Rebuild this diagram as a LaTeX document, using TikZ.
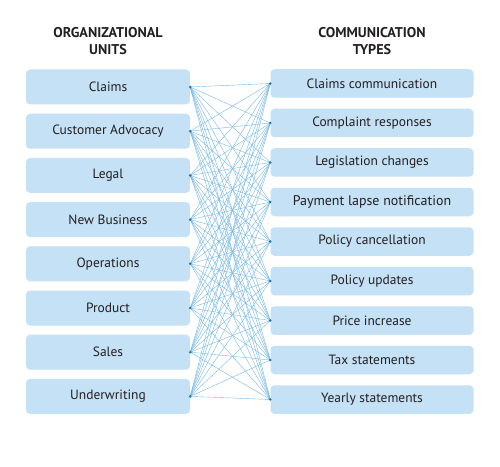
\documentclass[tikz,border=0pt]{standalone}
\usepackage{fontspec}
\setmainfont{PT Sans}
\usetikzlibrary{positioning}
\definecolor{boxblue}{RGB}{197,225,245}
\definecolor{lineblue}{RGB}{118,184,230}
\definecolor{dotblue}{RGB}{27,117,188}
\definecolor{textgray}{RGB}{35,31,32}

\begin{document}
\begin{tikzpicture}[x=1bp, y=-1bp,
    header/.style={align=center, font=\fontsize{14.2}{17.5}\selectfont\bfseries, text=textgray},
    box/.style={fill=boxblue, rounded corners=4bp, inner sep=0pt, text=textgray, font=\fontsize{13.5}{15}\selectfont},
    unit/.style={box, minimum width=164bp, minimum height=35bp, node distance=44.2bp},
    ctype/.style={box, minimum width=203bp, minimum height=28.5bp, node distance=39.5bp},
    link/.style={lineblue, line width=0.4bp},
    dot/.style={dotblue},
]
\useasboundingbox (0,0) rectangle (500,467);

\node[header] (unitshead) at (108,41) {ORGANIZATIONAL\\UNITS};
\node[header] (typeshead) at (372,41) {COMMUNICATION\\TYPES};

\node[unit] (u1) at (108,87) {Claims};
\node[unit, below of=u1] (u2) {Customer Advocacy};
\node[unit, below of=u2] (u3) {Legal};
\node[unit, below of=u3] (u4) {New Business};
\node[unit, below of=u4] (u5) {Operations};
\node[unit, below of=u5] (u6) {Product};
\node[unit, below of=u6] (u7) {Sales};
\node[unit, below of=u7] (u8) {Underwriting};

\node[ctype] (c1) at (372,83.5) {Claims communication};
\node[ctype, below of=c1] (c2) {Complaint responses};
\node[ctype, below of=c2] (c3) {Legislation changes};
\node[ctype, below of=c3, font=\fontsize{14}{15}\selectfont] (c4) {Payment lapse notification};
\node[ctype, below of=c4] (c5) {Policy cancellation};
\node[ctype, below of=c5] (c6) {Policy updates};
\node[ctype, below of=c6] (c7) {Price increase};
\node[ctype, below of=c7] (c8) {Tax statements};
\node[ctype, below of=c8] (c9) {Yearly statements};

% every unit talks to every type
\foreach \i in {1,...,8}
  \foreach \j in {1,...,9}
    \draw[link] (u\i.east) -- (c\j.west);

\foreach \i in {1,...,8}
  \fill[dot] (u\i.east) circle (1.4bp);
\foreach \j in {1,...,9}
  \fill[dot] (c\j.west) circle (1.4bp);
\end{tikzpicture}
\end{document}
